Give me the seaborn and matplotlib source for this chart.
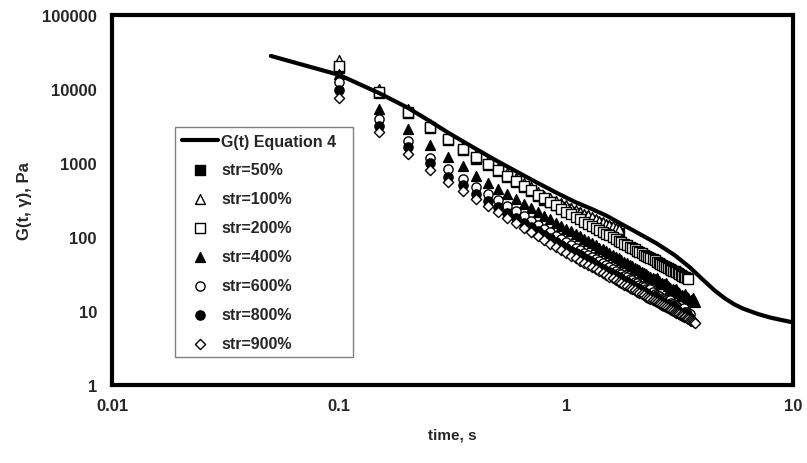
import numpy as np
import matplotlib
matplotlib.use("Agg")
import matplotlib.pyplot as plt
import matplotlib.ticker as mticker
import seaborn as sns

# tiempos de muestreo (s)
times = [0.10, 0.15, 0.20, 0.25, 0.30, 0.35, 0.40, 0.45, 0.50, 0.55, 0.60, 0.65, 0.70,
         0.75, 0.80, 0.85, 0.90, 0.95, 1.00, 1.05, 1.10, 1.15, 1.20, 1.25, 1.30, 1.35,
         1.40, 1.45, 1.50, 1.55, 1.60, 1.65, 1.70, 1.75, 1.80, 1.85, 1.90, 1.95, 2.00,
         2.05, 2.10, 2.15, 2.20, 2.25, 2.30, 2.35, 2.40, 2.45, 2.50, 2.55, 2.60, 2.65,
         2.70, 2.75, 2.80, 2.85, 2.90, 2.95, 3.00, 3.05, 3.10, 3.15, 3.20, 3.25, 3.30,
         3.35, 3.40, 3.45, 3.50, 3.55, 3.60, 3.65, 3.70]

# G(t, gamma) en Pa para cada deformacion
str50 = [19500, 8700, 4700, 2930, 2020, 1490, 1150, 940, 770, 645, 547, 470, 413, 360, 320,
         295, 273, 253, 236, 221, 208, 195, 185, 174, 165, 157, 149, 143, 136, 130, 125, 120, 115]
str100 = [24500, 10000, 5400, 3350, 2300, 1700, 1320, 1070, 870, 730, 620, 535, 470, 410, 363,
          334, 309, 286, 267, 249, 234, 219, 207, 196, 185, 176, 167, 160, 152, 145, 139, 133, 128]
str200 = [20500, 9100, 4900, 3050, 2100, 1550, 1200, 980, 800, 670, 570, 490, 430, 375, 333,
          298, 267, 241, 219, 202, 187, 173, 161, 150, 141, 132, 124, 117, 111, 105, 99, 94,
          89.5, 85, 81, 77.6, 74, 71, 68, 65, 62.7, 60.3, 58, 55.7, 53.6, 51.8, 50, 48.3, 46.6,
          45, 43.6, 42.3, 41, 39.7, 38.5, 37.3, 36.3, 35.2, 34.3, 33.3, 32.4, 31.6, 30.7, 29.9,
          29.1, 28.4, 27.8, 27.0]
str400 = [16000, 5400, 2900, 1750, 1200, 910, 670, 543, 449, 379, 324, 281, 246, 217, 194,
          174, 157, 142, 130, 119, 110, 102, 94.6, 88, 82, 77, 72.2, 68, 64, 60.5, 57.1, 54.2,
          51.5, 48.9, 46.5, 44.3, 42.3, 40.4, 38.6, 37.0, 35.5, 34.1, 32.8, 31.5, 30.2, 29.2,
          28.1, 27.1, 27.8, 25.2, 23.2, 23.7, 22.9, 23.6, 21.5, 20.8, 19.0, 19.6, 19.0, 19.8,
          18.0, 17.5, 15.9, 16.5, 16.1, 16.9, 15.3, 14.9, 13.6, 14.2, 14.8, 13.5, 13.2]
str600 = [12400, 3900, 2000, 1180, 830, 600, 475, 384, 315, 264, 223, 192, 167, 147, 130,
          116, 104, 94, 85.5, 78.4, 72.2, 66.5, 61.7, 57.3, 53.5, 50.0, 46.9, 44.0, 41.4, 39.1,
          36.9, 35.0, 33.1, 31.4, 29.9, 28.4, 27.1, 25.9, 24.7, 23.6, 22.7, 21.8, 20.9, 20.0,
          19.2, 19.6, 17.9, 17.2, 16.6, 16.0, 14.6, 15.0, 14.5, 14.0, 13.6, 14.0, 12.7, 12.3,
          12.0, 11.6, 10.6, 11.0, 10.7, 10.4, 10.9, 9.8, 9.6, 9.3, 9.1]
str800 = [9700, 3200, 1660, 990, 645, 500, 380, 307, 253, 213, 182, 157, 137, 121, 108,
          96.6, 86.9, 78.7, 71.8, 65.7, 60.7, 56.3, 52.2, 48.6, 45.3, 42.5, 39.9, 37.5, 35.3,
          33.4, 31.5, 29.9, 28.4, 27.0, 25.7, 24.5, 23.4, 22.3, 21.3, 20.4, 19.6, 18.8, 18.1,
          17.4, 16.7, 16.1, 15.5, 16.0, 14.5, 13.9, 13.5, 13.1, 11.8, 12.3, 11.9, 11.5, 11.2,
          11.6, 10.5, 10.2, 9.9, 9.7, 8.8, 9.1, 8.9, 8.7, 9.0, 8.2, 8.0]
str900 = [7600, 2600, 1320, 815, 550, 420, 325, 261, 215, 180, 153, 132, 116, 102, 90.4,
          80.9, 72.8, 65.8, 60.0, 55.4, 51.3, 47.6, 44.5, 41.5, 38.9, 36.6, 34.4, 32.5, 30.8,
          29.1, 27.6, 26.3, 25.0, 23.8, 22.8, 21.8, 20.8, 19.9, 19.1, 18.3, 17.7, 17.0, 16.4,
          15.7, 15.2, 14.7, 14.2, 13.7, 13.2, 12.8, 12.4, 12.0, 11.7, 11.3, 11.0, 10.6, 10.4,
          10.1, 9.8, 9.5, 9.3, 9.0, 8.8, 8.6, 8.4, 8.2, 8.0, 7.8, 7.6, 7.4, 7.3, 7.1, 6.9]

# curva del modelo (Ecuacion 4)
line_t = [0.05, 0.07, 0.1, 0.15, 0.2, 0.25, 0.3, 0.4, 0.5, 0.7, 0.9, 1.1, 1.3, 1.5, 1.75,
          2.0, 2.5, 3.0, 3.5, 4.0, 4.5, 5.0, 5.5, 6.0, 7.0, 8.0, 10.0]
line_v = [28000, 21000, 15500, 8800, 5600, 3700, 2600, 1550, 1050, 600, 400, 295, 238, 195,
          150, 120, 82, 57, 39, 26.5, 19, 14.8, 12.3, 10.8, 9.1, 8.1, 7.0]

series = [
    ("str=50%", str50, "s", "black"),
    ("str=100%", str100, "^", "white"),
    ("str=200%", str200, "s", "white"),
    ("str=400%", str400, "^", "black"),
    ("str=600%", str600, "o", "white"),
    ("str=800%", str800, "o", "black"),
    ("str=900%", str900, "D", "white"),
]
sizes = {"s": 50, "^": 50, "o": 44, "D": 27}

sns.set_style("white")
plt.rcParams["font.family"] = ["Liberation Sans", "DejaVu Sans"]
plt.rcParams["font.weight"] = "bold"
plt.rcParams["axes.labelweight"] = "bold"

fig, ax = plt.subplots(figsize=(8.07, 4.64), dpi=100)
fig.subplots_adjust(left=0.139, right=0.983, top=0.9655, bottom=0.168)
ax.set_xscale("log")
ax.set_yscale("log")

sns.lineplot(x=line_t, y=line_v, color="black", linewidth=3, ax=ax,
             label="G(t) Equation 4", estimator=None, sort=False)

for label, vals, marker, face in series:
    sns.scatterplot(x=times[:len(vals)], y=vals, marker=marker, s=sizes[marker],
                    color=face, edgecolor="black", linewidth=1.0, ax=ax, label=label)

ax.set_xlim(0.01, 10)
ax.set_ylim(1, 100000)

fmt = mticker.FuncFormatter(lambda v, p: f"{v:g}")
ax.xaxis.set_major_formatter(fmt)
ax.yaxis.set_major_formatter(fmt)
for axis in (ax.xaxis, ax.yaxis):
    axis.set_minor_locator(mticker.LogLocator(base=10, subs=np.arange(2, 10), numticks=20))
    axis.set_minor_formatter(mticker.NullFormatter())

ax.tick_params(which="both", direction="in", top=False, right=False, color="black",
               labelsize=12, width=2.2)
ax.tick_params(which="major", length=4)
ax.tick_params(which="minor", length=3)
ax.tick_params(axis="x", pad=9)
ax.tick_params(axis="y", pad=11)

for sp in ax.spines.values():
    sp.set_linewidth(3)
    sp.set_color("black")

ax.set_xlabel("time, s", fontsize=11, fontweight="bold", labelpad=11)
ax.set_ylabel("G(t, γ), Pa", fontsize=12, fontweight="bold", labelpad=7)

leg = ax.legend(loc="upper left", bbox_to_anchor=(0.0925, 0.0757, 0.2614, 0.6213),
                mode="expand", borderaxespad=0,
                frameon=True, fancybox=False, edgecolor="#808080", framealpha=1,
                fontsize=11.5, labelspacing=0.87, handlelength=2.3, handletextpad=0.2,
                borderpad=0.4)
leg.get_frame().set_linewidth(1.0)

fig.savefig("out.png", dpi=100)
